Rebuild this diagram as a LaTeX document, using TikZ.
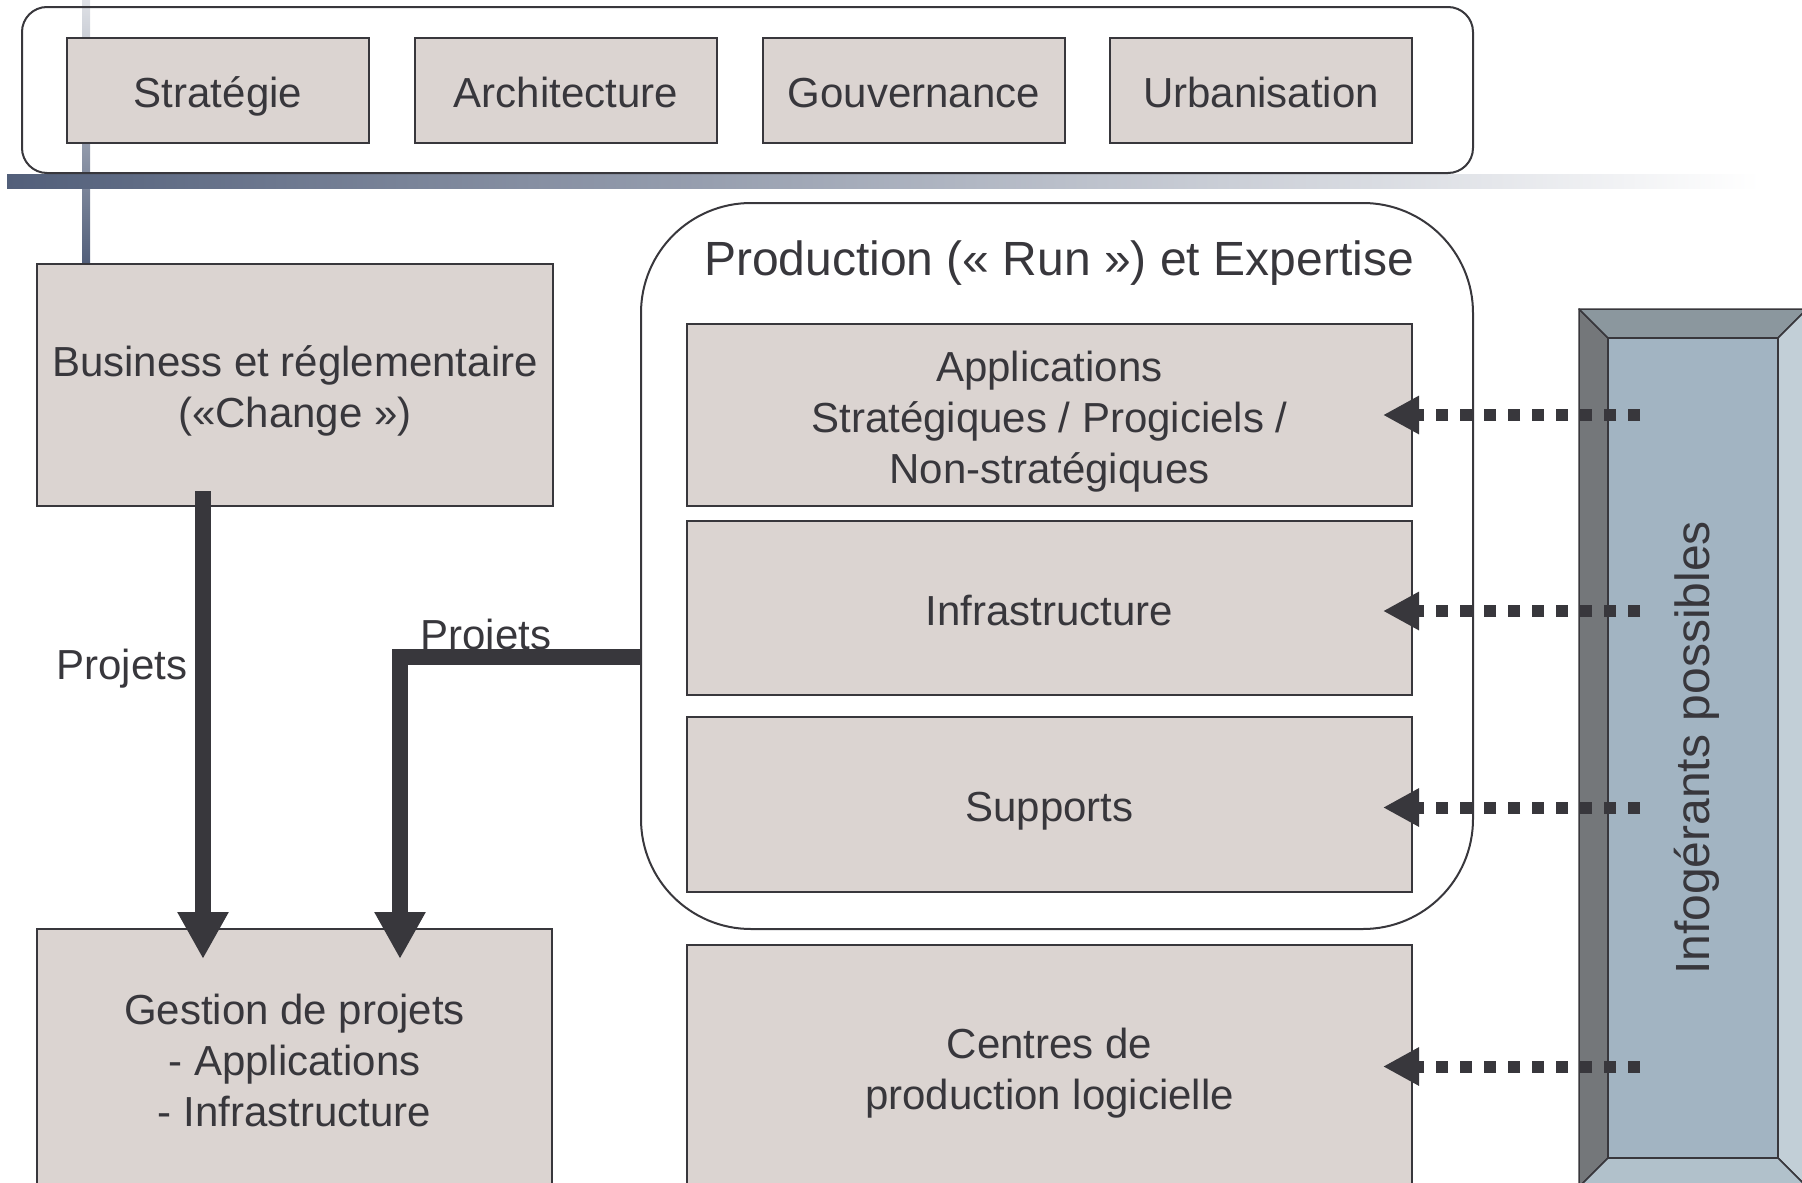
\documentclass[tikz,border=0pt]{standalone}
\usepackage{fontspec}
\setmainfont{Liberation Sans}
\usepackage{tikz}
\usetikzlibrary{arrows.meta}
\definecolor{inkdark}{RGB}{56,55,60}
\definecolor{boxfill}{RGB}{219,212,209}
\definecolor{barblue}{RGB}{82,95,122}
\definecolor{barlight}{RGB}{223,225,230}
\definecolor{bevleft}{RGB}{116,119,122}
\definecolor{bevtop}{RGB}{139,151,158}
\definecolor{bevright}{RGB}{194,207,215}
\definecolor{bevbottom}{RGB}{177,193,203}
\definecolor{bevface}{RGB}{162,180,194}
\newcommand{\boxstrut}{\rule[-10pt]{0pt}{54pt}}

\begin{document}
\begin{tikzpicture}[x=1pt,y=-1pt,
    box/.style={draw=inkdark,line width=1.5pt,fill=boxfill,text=inkdark,inner sep=0pt,outer sep=0pt,align=center,font=\fontsize{42}{51}\selectfont,
        execute at begin node=\boxstrut,execute at end node=\boxstrut},
    frame/.style={draw=inkdark,line width=2pt,inner sep=0pt,outer sep=0pt},
    lbl/.style={text=inkdark,inner sep=0pt,font=\fontsize{42}{51}\selectfont},
    bigarrow/.style={draw=inkdark,line width=16pt,-{Triangle[length=47pt,width=48pt]}},
    dotarrow/.style={draw=inkdark,line width=12pt,dash pattern=on 12pt off 12pt,-{Triangle[length=36pt,width=36pt]}}]
                \useasboundingbox (0,0) rectangle (1802,1183);
                \clip (0,0) rectangle (1802,1183);
                \shade[top color=barlight,bottom color=barblue] (82,0) rectangle (90,264);
                \shade[left color=barblue,right color=white] (7,174) rectangle (1760,188);

                % pilotage
                \node[frame,rounded corners=25pt,minimum width=1451pt,minimum height=166pt] (topframe) at (747.5,90) {};
                \node[box,minimum width=302pt,minimum height=105pt] (strat) at (218,90.5) {Stratégie};
                \node[box,minimum width=302pt,minimum height=105pt] (archi) at (566,90.5) {Architecture};
                \node[box,minimum width=302pt,minimum height=105pt] (gouv) at (914,90.5) {Gouvernance};
                \node[box,minimum width=302pt,minimum height=105pt] (urba) at (1261,90.5) {Urbanisation};

                \node[box,minimum width=516pt,minimum height=242pt] (business) at (295,385) {\boxstrut Business et réglementaire\\(«Change »)};
                \node[box,minimum width=515pt,minimum height=259pt] (gestion) at (294.5,1058.5) {\boxstrut Gestion de projets\\- Applications\\- Infrastructure};

                % run
                \node[frame,rounded corners=110pt,minimum width=832pt,minimum height=726pt] (prod) at (1057,566) {};
                \node[lbl,font=\fontsize{48}{56}\selectfont] (prodtitle) at (1059,263) {Production (« Run ») et Expertise};
                \node[box,minimum width=725pt,minimum height=182pt] (app) at (1049.5,415) {\boxstrut Applications\\Stratégiques / Progiciels /\\Non-stratégiques};
                \node[box,minimum width=725pt,minimum height=174pt] (infra) at (1049.5,608) {Infrastructure};
                \node[box,minimum width=725pt,minimum height=175pt] (supports) at (1049.5,804.5) {Supports};
                \node[box,minimum width=725pt,minimum height=243pt] (centres) at (1049.5,1066.5) {\boxstrut Centres de\\production logicielle};

                \node[lbl,anchor=base] (projA) at (122,679) {Projets};
                \node[lbl,anchor=base] (projB) at (486,649) {Projets};
                \draw[bigarrow] ([xshift=-92pt,yshift=15pt]business.south) -- ([xshift=-91.5pt,yshift=-30pt]gestion.north);
                \draw[bigarrow] ([yshift=-91pt]prod.west) -| ([xshift=105.5pt,yshift=-30pt]gestion.north);

                % infogerants
                \begin{scope}[draw=inkdark,line width=1.5pt,line join=round]
                \filldraw[fill=bevleft] (1579,309) -- (1608,338) -- (1608,1158) -- (1579,1187) -- cycle;
                \filldraw[fill=bevtop] (1579,309) -- (1807,309) -- (1778,338) -- (1608,338) -- cycle;
                \filldraw[fill=bevright] (1807,309) -- (1807,1187) -- (1778,1158) -- (1778,338) -- cycle;
                \filldraw[fill=bevbottom] (1579,1187) -- (1807,1187) -- (1778,1158) -- (1608,1158) -- cycle;
                \end{scope}
                \node[box,fill=bevface,minimum width=170pt,minimum height=820pt] (infog) at (1693,748) {};
                \node[lbl,rotate=90,font=\fontsize{48}{56}\selectfont] (infotxt) at ([xshift=4pt]infog.center) {Infogérants possibles};

                \coordinate (feed) at ([xshift=32pt]infog.west);
                \draw[dotarrow] (feed |- app.east) -- ([xshift=-29pt]app.east);
                \draw[dotarrow] ([yshift=-3pt]feed |- infra.east) -- ([xshift=-29pt,yshift=-3pt]infra.east);
                \draw[dotarrow] ([yshift=-3pt]feed |- supports.east) -- ([xshift=-29pt,yshift=-3pt]supports.east);
                \draw[dotarrow] (feed |- centres.east) -- ([xshift=-29pt]centres.east);
            \end{tikzpicture}
\end{document}
